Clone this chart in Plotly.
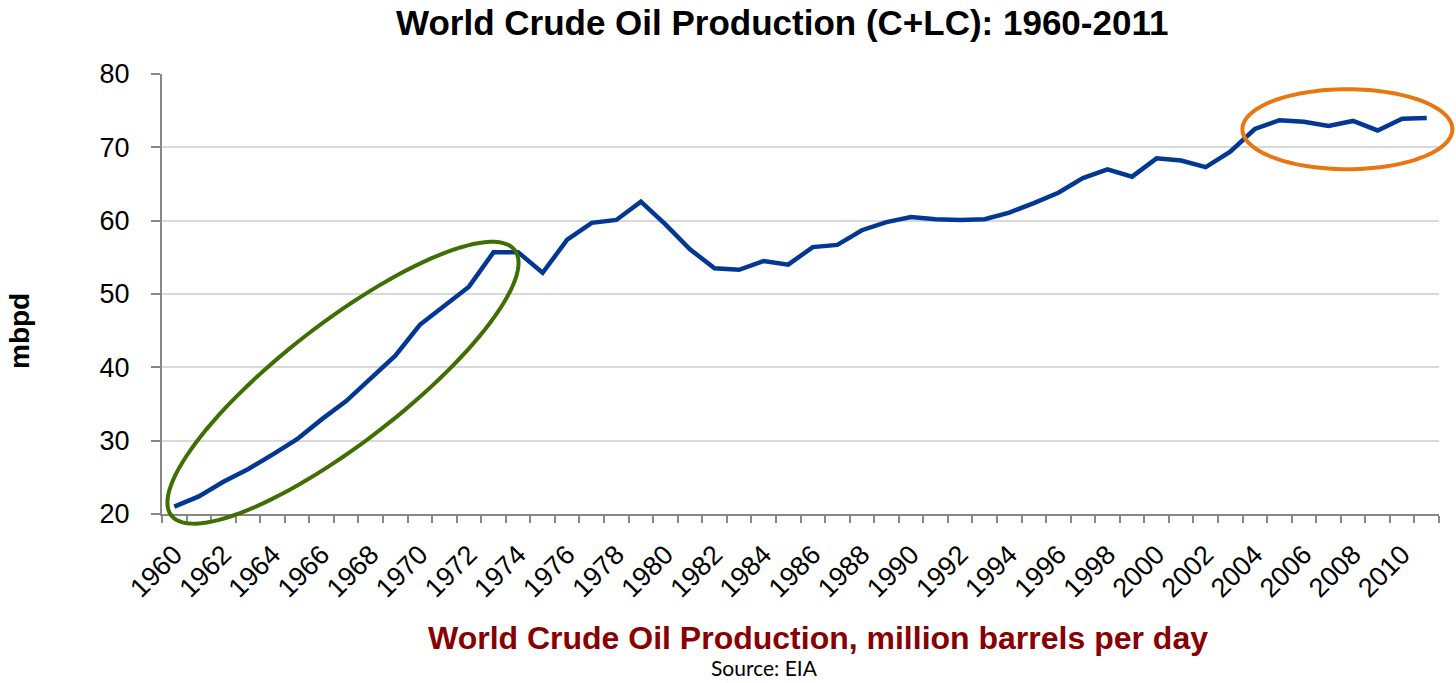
import math
import plotly.graph_objects as go

# ---- data ----
years = list(range(1960, 2012))
production_mbpd = [
    21.0, 22.4, 24.4, 26.1, 28.1, 30.2, 32.9, 35.4, 38.5, 41.6,
    45.8, 48.4, 51.0, 55.7, 55.7, 52.9, 57.4, 59.7, 60.1, 62.6,
    59.5, 56.1, 53.5, 53.3, 54.5, 54.0, 56.4, 56.7, 58.7, 59.8,
    60.5, 60.2, 60.1, 60.2, 61.1, 62.4, 63.8, 65.8, 67.0, 66.0,
    68.5, 68.2, 67.3, 69.4, 72.5, 73.7, 73.5, 72.9, 73.6, 72.3,
    73.9, 74.0,
]
tick_years = years[::2]
tick_labels = [str(y) for y in tick_years]

title_text = "World Crude Oil Production (C+LC): 1960-2011"
x_title_text = "World Crude Oil Production, million barrels per day"
source_text = "Source: EIA"
y_title_text = "mbpd"

# ---- layout geometry (body margin removed -> figure fills the page) ----
W, H = 1456, 683
PLOT_LEFT, PLOT_RIGHT, PLOT_TOP, PLOT_BOTTOM = 162, 1439, 74, 514
L, T = PLOT_LEFT, PLOT_TOP
R, B = W - PLOT_RIGHT, H - PLOT_BOTTOM
PW, PH = PLOT_RIGHT - PLOT_LEFT, PLOT_BOTTOM - PLOT_TOP
X_RANGE = [1959.5, 2011.5]
Y_RANGE = [20, 80]


def px_to_paper(px, py):
    return (px - PLOT_LEFT) / PW, (PLOT_BOTTOM - py) / PH


def data_to_px(xv, yv):
    px = PLOT_LEFT + (xv - X_RANGE[0]) / (X_RANGE[1] - X_RANGE[0]) * PW
    py = PLOT_BOTTOM - (yv - Y_RANGE[0]) / (Y_RANGE[1] - Y_RANGE[0]) * PH
    return px, py


def ellipse_path(cx_data, cy_data, a_px, b_px, angle_deg, n=120):
    cx, cy = data_to_px(cx_data, cy_data)
    th = math.radians(angle_deg)
    pts = []
    for i in range(n + 1):
        t = 2 * math.pi * i / n
        ex = a_px * math.cos(t)
        ey = b_px * math.sin(t)
        px = cx + ex * math.cos(th) - ey * math.sin(th)
        py = cy - (ex * math.sin(th) + ey * math.cos(th))
        pts.append(px_to_paper(px, py))
    return "M " + " L ".join(f"{x:.5f},{y:.5f}" for x, y in pts) + " Z"


fig = go.Figure()
fig.add_trace(go.Scatter(
    x=years, y=production_mbpd, mode="lines",
    line=dict(color="#023893", width=4.5),
    showlegend=False, hoverinfo="x+y",
))

axis_gray = "#878787"
fig.update_xaxes(
    range=X_RANGE, tickmode="array", tickvals=tick_years, ticktext=tick_labels,
    tickangle=-45, ticks="", showgrid=False, zeroline=False,
    showline=True, linecolor=axis_gray, linewidth=2,
    tickfont=dict(family="Liberation Sans, Arial", size=27, color="black"),
    minor=dict(ticks="outside", tick0=1959.5, dtick=1, ticklen=7,
               tickcolor=axis_gray, tickwidth=1.5, showgrid=False),
    ticklabelstandoff=12,
)
fig.update_yaxes(
    range=Y_RANGE, dtick=10, ticks="outside", ticklen=9, tickcolor=axis_gray,
    tickwidth=1.5, showgrid=True, gridcolor="#d9d9d9", gridwidth=1.5,
    zeroline=False, showline=True, linecolor=axis_gray, linewidth=2,
    tickfont=dict(family="Liberation Sans, Arial", size=27, color="black"),
    ticklabelstandoff=16,
)

shapes = [
    dict(type="path", xref="paper", yref="paper",
         path=ellipse_path(1966.87, 37.9, 217, 60, 37.7),
         line=dict(color="#3F6E02", width=4), fillcolor="rgba(0,0,0,0)"),
    dict(type="path", xref="paper", yref="paper",
         path=ellipse_path(2007.77, 72.47, 105, 40, 0),
         line=dict(color="#EA7612", width=4), fillcolor="rgba(0,0,0,0)"),
]

ann = []
tx, ty = px_to_paper(782, 22)
ann.append(dict(text=f"<b>{title_text}</b>", x=tx, y=ty, xref="paper", yref="paper",
                showarrow=False, xanchor="center", yanchor="middle",
                font=dict(family="Liberation Sans, Arial", size=35, color="black")))
ax_, ay_ = px_to_paper(818, 638)
ann.append(dict(text=f"<b>{x_title_text}</b>", x=ax_, y=ay_, xref="paper", yref="paper",
                showarrow=False, xanchor="center", yanchor="middle",
                font=dict(family="Liberation Sans, Arial", size=32, color="#880000")))
sx, sy = px_to_paper(764, 667)
ann.append(dict(text=source_text, x=sx, y=sy, xref="paper", yref="paper",
                showarrow=False, xanchor="center", yanchor="middle",
                font=dict(family="Lato, Open Sans", size=21, color="black")))
yx, yy = px_to_paper(19, 331)
ann.append(dict(text=f"<b>{y_title_text}</b>", x=yx, y=yy, xref="paper", yref="paper",
                showarrow=False, xanchor="center", yanchor="middle", textangle=-90,
                font=dict(family="Liberation Sans, Arial", size=28, color="black")))

fig.update_layout(
    width=W, height=H,
    margin=dict(l=L, r=R, t=T, b=B, autoexpand=False),
    plot_bgcolor="white", paper_bgcolor="white",
    shapes=shapes, annotations=ann,
)

fig.write_html(
    "out.html",
    config=dict(displayModeBar=False),
    post_script="document.body.style.margin='0px';document.body.style.overflow='hidden';",
)
